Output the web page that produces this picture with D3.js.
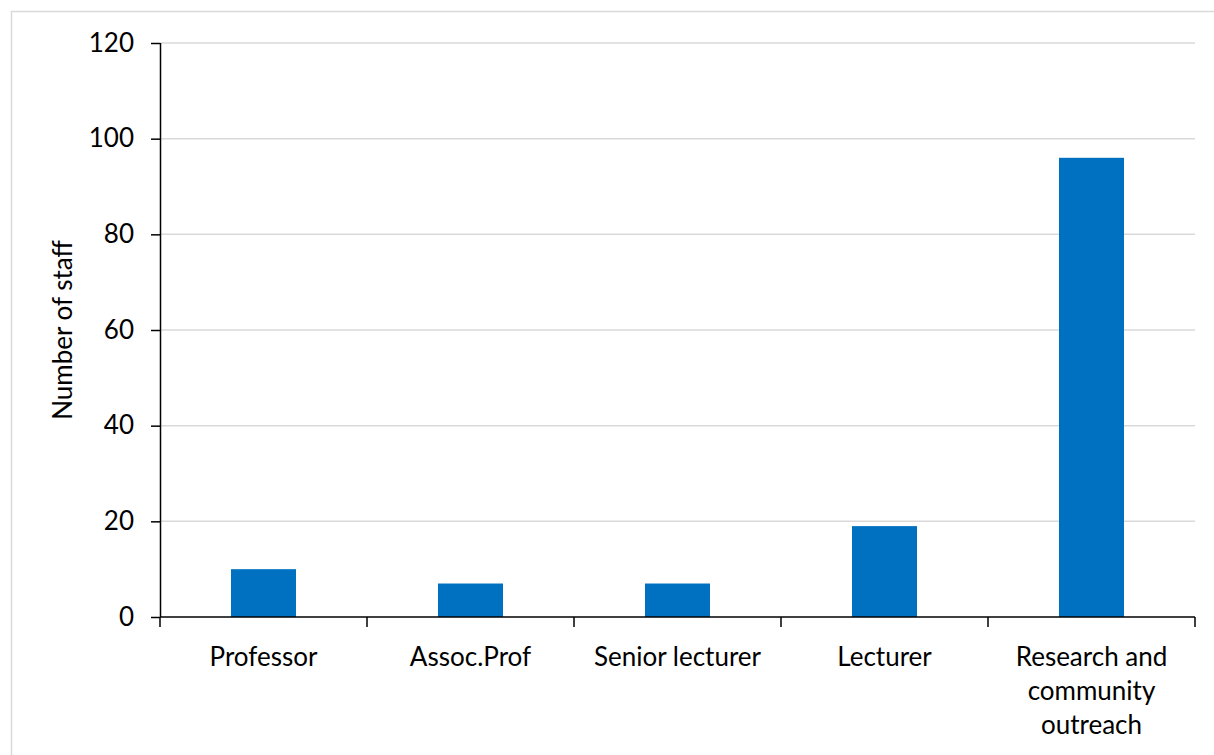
<!DOCTYPE html>
<html>
<head>
<meta charset="utf-8">
<script src="https://cdn.jsdelivr.net/npm/d3@7"></script>
<style>
  body { margin: 0; background: #fff; }
  text { font-family: Lato, "Open Sans", sans-serif; fill: #000; }
</style>
</head>
<body>
<div id="chart"></div>
<script>
// Data
var categories = ["Professor", "Assoc.Prof", "Senior lecturer", "Lecturer", "Research and community outreach"];
var categoryLines = [["Professor"], ["Assoc.Prof"], ["Senior lecturer"], ["Lecturer"], ["Research and", "community", "outreach"]];
var staffCounts = [10, 7, 7, 19, 96];
var yTicks = [0, 20, 40, 60, 80, 100, 120];

// SVG size
var svgWidth = 1214;
var svgHeight = 755;

var margin = { top: 43, right: 19, bottom: 138, left: 160 };
var width = svgWidth - margin.left - margin.right;
var height = svgHeight - margin.top - margin.bottom;

var fontSize = "26px";

var svg = d3.select("#chart")
  .append("svg")
  .attr("width", svgWidth)
  .attr("height", svgHeight);

// outer chart frame (clipped by the page on right / bottom)
svg.append("rect")
  .attr("x", 11.5)
  .attr("y", 11.5)
  .attr("width", svgWidth + 20)
  .attr("height", svgHeight + 20)
  .attr("fill", "none")
  .attr("stroke", "#d9d9d9")
  .attr("stroke-width", 1.5);

var chartGroup = svg.append("g")
  .attr("transform", `translate(${margin.left}, ${margin.top})`);

// scales
var xScale = d3.scaleBand()
  .domain(categories)
  .range([0, width])
  .paddingInner(0.686)
  .paddingOuter(0.343);

var xGroups = d3.scaleBand()
  .domain(categories)
  .range([0, width]);

var yScale = d3.scaleLinear()
  .domain([0, 120])
  .range([height, 0]);

// gridlines
chartGroup.append("g")
  .selectAll("line")
  .data(yTicks.filter(d => d > 0))
  .enter()
  .append("line")
  .attr("x1", 0)
  .attr("x2", width)
  .attr("y1", d => yScale(d))
  .attr("y2", d => yScale(d))
  .attr("stroke", "#d9d9d9")
  .attr("stroke-width", 1.5);

// bars
chartGroup.selectAll(".bar")
  .data(staffCounts)
  .enter()
  .append("rect")
  .attr("class", "bar")
  .attr("x", (d, i) => xScale(categories[i]))
  .attr("y", d => yScale(d))
  .attr("width", xScale.bandwidth())
  .attr("height", d => height - yScale(d))
  .attr("fill", "#0070c0");

// y axis
var leftAxis = d3.axisLeft(yScale)
  .tickValues(yTicks)
  .tickSize(9)
  .tickPadding(17);

var yAxis = chartGroup.append("g")
  .attr("id", "yAxis")
  .call(leftAxis);
yAxis.select(".domain").attr("stroke", "#000").attr("stroke-width", 1.5).attr("d", `M0.5,${height}V0`);
yAxis.selectAll(".tick line").attr("stroke", "#000").attr("stroke-width", 1.5);
yAxis.selectAll(".tick text")
  .style("font-family", "Lato, sans-serif")
  .style("font-size", fontSize)
  .attr("fill", "#000");

// x axis: line plus ticks at group boundaries
var xAxis = chartGroup.append("g")
  .attr("id", "xAxis")
  .attr("transform", `translate(0, ${height})`);

xAxis.append("line")
  .attr("x1", 0)
  .attr("x2", width)
  .attr("stroke", "#000")
  .attr("stroke-width", 1.5);

var boundaries = categories.map(c => xGroups(c)).concat([width]);
xAxis.selectAll(".xtick")
  .data(boundaries)
  .enter()
  .append("line")
  .attr("class", "xtick")
  .attr("x1", d => d)
  .attr("x2", d => d)
  .attr("y1", 0)
  .attr("y2", 10)
  .attr("stroke", "#000")
  .attr("stroke-width", 1.5);

// category labels
var labels = xAxis.selectAll(".xlabel")
  .data(categoryLines)
  .enter()
  .append("text")
  .attr("class", "xlabel")
  .attr("text-anchor", "middle")
  .style("font-size", fontSize)
  .attr("transform", (d, i) => `translate(${xGroups(categories[i]) + xGroups.bandwidth() / 2}, 49)`);

labels.selectAll("tspan")
  .data(d => d)
  .enter()
  .append("tspan")
  .attr("x", 0)
  .attr("dy", (d, i) => i === 0 ? 0 : 34)
  .text(d => d);

// y axis title
chartGroup.append("text")
  .attr("transform", "rotate(-90)")
  .attr("x", 0 - height / 2)
  .attr("y", 0 - margin.left + 72)
  .style("text-anchor", "middle")
  .style("font-size", fontSize)
  .text("Number of staff");
</script>
</body>
</html>
